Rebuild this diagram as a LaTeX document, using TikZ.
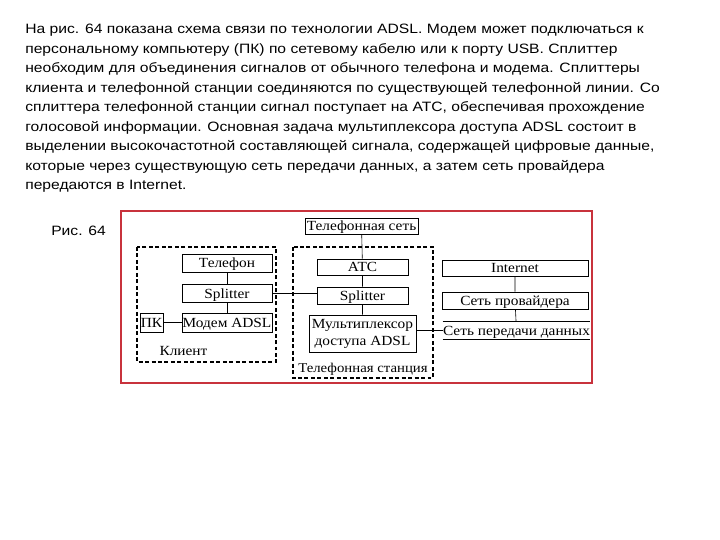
\documentclass[tikz,border=0pt]{standalone}
\usepackage{fontspec}
\setmainfont[FakeStretch=1.1]{Liberation Serif}
\newfontfamily\arialfont[FakeStretch=1.155]{Liberation Sans}
\definecolor{frame}{HTML}{C8323C}
\begin{document}
\begin{tikzpicture}[x=1bp,y=-1bp,line width=.6pt,
  blk/.style={draw,inner sep=0pt,text height=10bp,text depth=0pt,
    font=\fontsize{14}{16}\selectfont},
  dbox/.style={line width=1.1pt,dash pattern=on 4pt off 2.5pt}]
\useasboundingbox (0,0) rectangle (720,540);
% text above the figure
\node[anchor=north west,align=left,inner sep=0pt,
  font=\arialfont\fontsize{13.6}{19.6}\selectfont] (txt) at (25,24)
 {На рис. 64 показана схема связи по технологии ADSL. Модем может подключаться к\\
  персональному компьютеру (ПК) по сетевому кабелю или к порту USB. Сплиттер\\
  необходим для объединения сигналов от обычного телефона и модема. Сплиттеры\\
  клиента и телефонной станции соединяются по существующей телефонной линии. Со\\
  сплиттера телефонной станции сигнал поступает на АТС, обеспечивая прохождение\\
  голосовой информации. Основная задача мультиплексора доступа ADSL состоит в\\
  выделении высокочастотной составляющей сигнала, содержащей цифровые данные,\\
  которые через существующую сеть передачи данных, а затем сеть провайдера\\
  передаются в Internet.};
\node[anchor=west,inner sep=0pt,font=\arialfont\fontsize{13.6}{16}\selectfont] (fig) at (51,231) {Рис. 64};
\draw[frame,line width=2pt] (121,211) rectangle (592,383);
% client
\draw[dbox] (137,247) rectangle (276,362);
\node[blk,minimum width=90bp,minimum height=18bp] (tel) at (227,263) {Телефон};
\node[blk,minimum width=90bp,minimum height=18bp] (spla) at (227,293) {Splitter};
\node[blk,minimum width=90bp,minimum height=19bp] (modem) at (227,322.5) {Модем ADSL};
\node[blk,minimum width=23bp,minimum height=19bp] (pk) at (151.5,322.5) {ПК};
\node[inner sep=0pt,anchor=base,font=\fontsize{14}{16}\selectfont] (client) at (183.5,355) {Клиент};
\draw (tel) -- (spla) (spla) -- (modem) (pk) -- (modem);
% station
\draw[dbox] (293,247) rectangle (433,378);
\node[blk,minimum width=113bp,minimum height=16bp] (tnet) at (361.5,226) {Телефонная сеть};
\node[blk,minimum width=91bp,minimum height=16bp] (atc) at (362.5,267) {АТС};
\node[blk,minimum width=91bp,minimum height=17bp] (splb) at (362.5,295.5) {Splitter};
\node[draw,inner sep=0pt,minimum width=107bp,minimum height=37bp,align=center,
  font=\fontsize{14}{17}\selectfont] (mux) at (362.5,333.5) {Мультиплексор\\доступа ADSL};
\node[inner sep=0pt,anchor=base,font=\fontsize{13.5}{16}\selectfont] (station) at (363,372) {Телефонная станция};
\draw (tnet) -- (atc) (atc) -- (splb) (splb) -- (mux);
\draw (spla.east) -- (spla.east -| splb.west);
% provider side
\node[blk,minimum width=146bp,minimum height=16bp] (inet) at (515,268) {Internet};
\node[blk,minimum width=146bp,minimum height=17bp] (prov) at (515,300.5) {Сеть провайдера};
\node[blk,draw=none,minimum width=147bp,minimum height=17bp] (data) at (516.5,330.5) {Сеть передачи данных};
\draw (data.north west) -- (data.north east) (data.south west) -- (data.south east);
\draw (inet) -- (prov) (prov) -- (data);
\draw (mux.east |- data.west) -- (data.west);
\end{tikzpicture}
\end{document}
